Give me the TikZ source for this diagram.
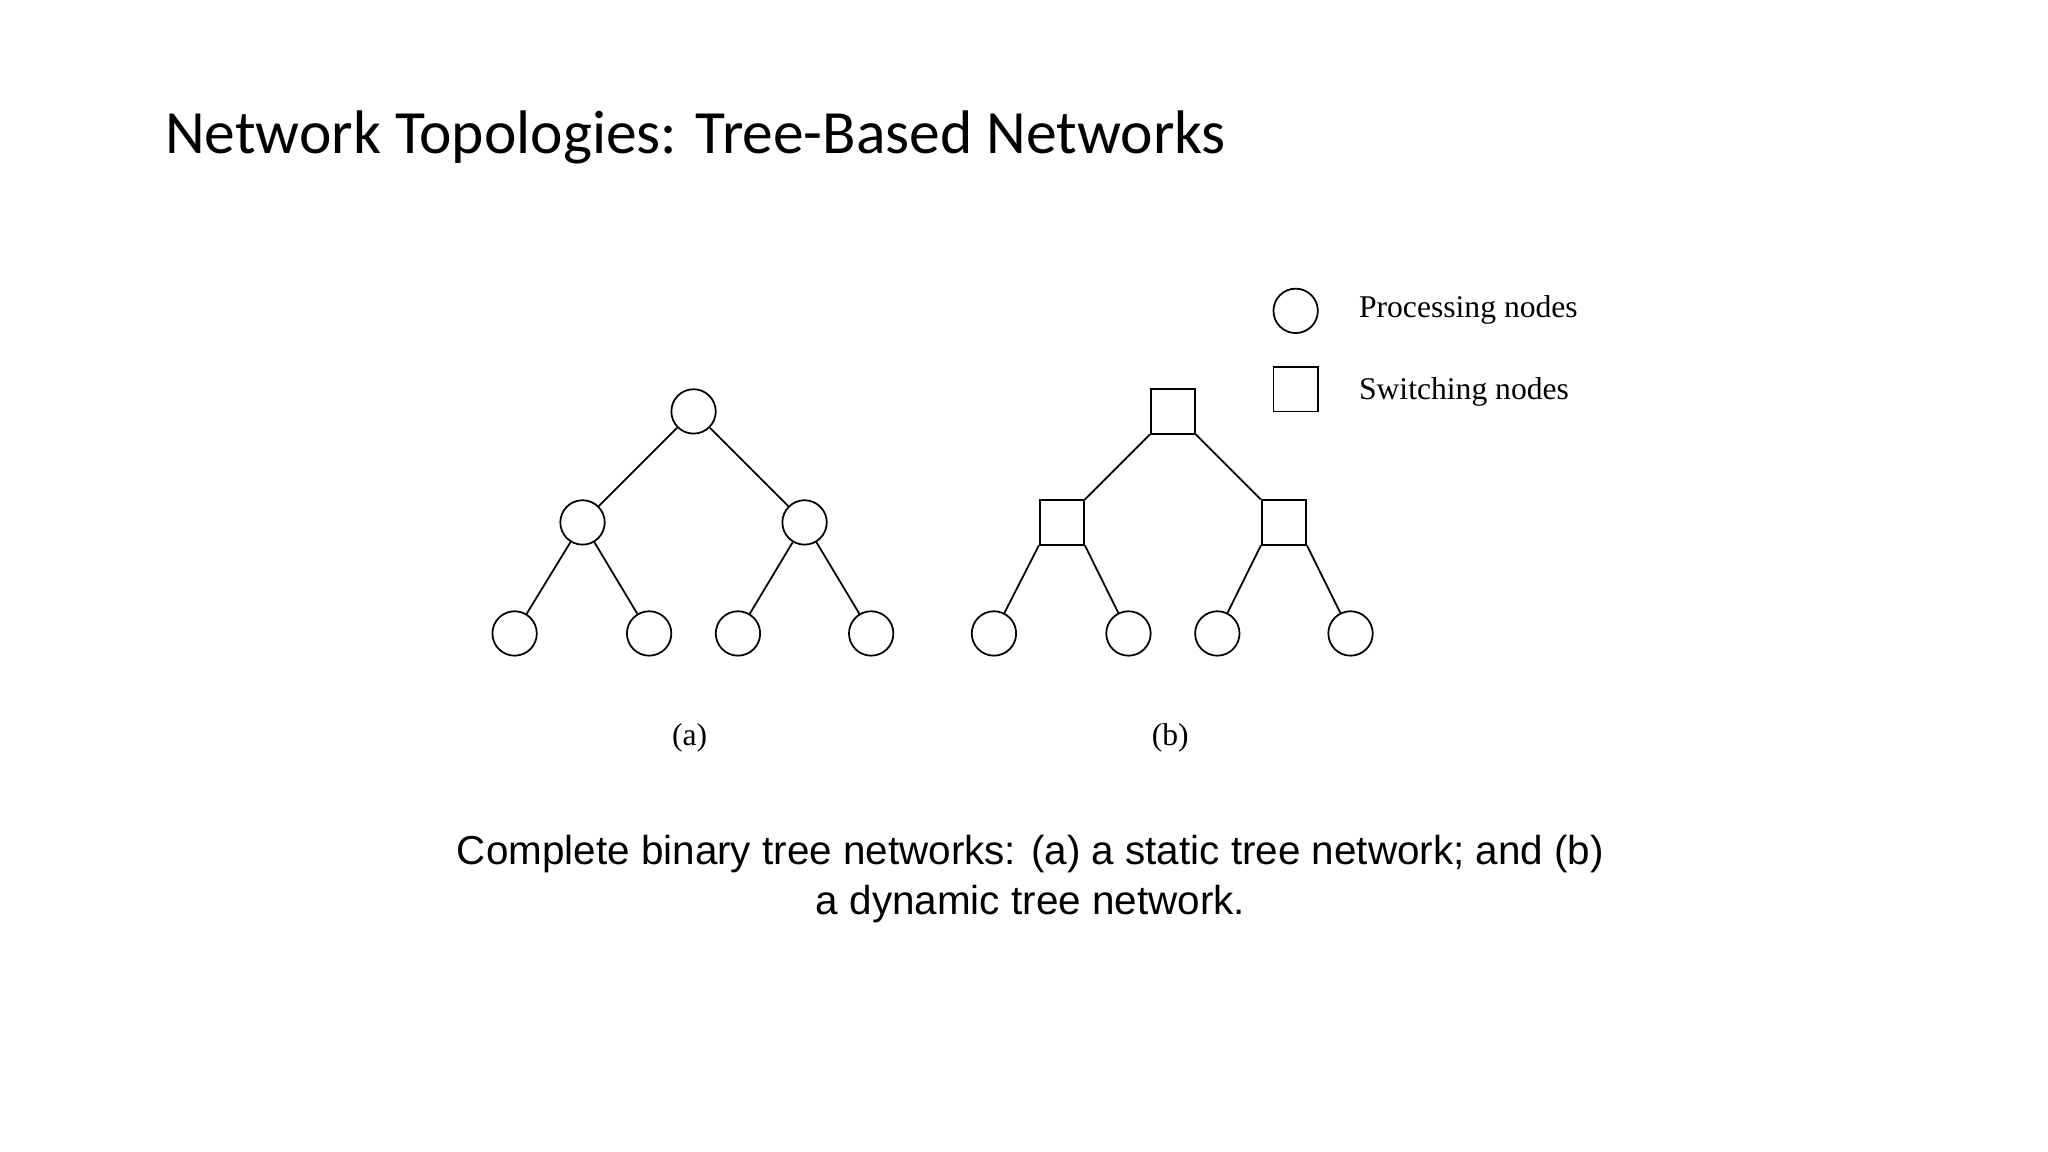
\documentclass[tikz,border=0pt]{standalone}
\usepackage{fontspec}
\setmainfont{Liberation Serif}
\newfontfamily\titlefont{Carlito}
\newfontfamily\capfont{Liberation Sans}
\begin{document}
\begin{tikzpicture}[x=0.01306cm,y=-0.01306cm,
  pn/.style={draw,circle,minimum size=0.444cm,inner sep=0pt,line width=0.5pt},
  sn/.style={draw,rectangle,minimum size=0.444cm,inner sep=0pt,line width=0.5pt},
  edge/.style={line width=0.5pt}]
\useasboundingbox[fill=white] (0,0) rectangle (1568,882);
\node[anchor=west,font=\titlefont\fontsize{17.5}{20}\selectfont] (title) at (117,105) {Network Topologies: Tree-Based Networks};
% tree a
\node[pn] (a0) at (531,315) {};
\node[pn] (a1) at (446,400) {};
\node[pn] (a2) at (616,400) {};
\node[pn] (a3) at (394,485) {};
\node[pn] (a4) at (497,485) {};
\node[pn] (a5) at (565,485) {};
\node[pn] (a6) at (667,485) {};
\draw[edge] (a0)--(a1) (a0)--(a2) (a1)--(a3) (a1)--(a4) (a2)--(a5) (a2)--(a6);
% tree b
\node[sn] (b0) at (898,315) {};
\node[sn] (b1) at (813,400) {};
\node[sn] (b2) at (983,400) {};
\node[pn] (b3) at (761,485) {};
\node[pn] (b4) at (864,485) {};
\node[pn] (b5) at (932,485) {};
\node[pn] (b6) at (1034,485) {};
\draw[edge] (b0.south west)--(b1.north east) (b0.south east)--(b2.north west)
  (b1.south west)--(b3) (b1.south east)--(b4) (b2.south west)--(b5) (b2.south east)--(b6);
% legend
\node[pn] (lp) at (992,238) {};
\node[sn] (ls) at (992,298) {};
\node[anchor=west,font=\fontsize{9}{11}\selectfont] (lpt) at (1031,237) {Processing nodes};
\node[anchor=west,font=\fontsize{9}{11}\selectfont] (lst) at (1031,300) {Switching nodes};
\node[font=\fontsize{9}{11}\selectfont] (la) at (528,565) {(a)};
\node[font=\fontsize{9}{11}\selectfont] (lb) at (896,565) {(b)};
\node[font=\capfont\fontsize{11.5}{14.1}\selectfont,align=center] (cap) at (789,673) {Complete binary tree networks: (a) a static tree network; and (b)\\a dynamic tree network.};
\end{tikzpicture}
\end{document}
